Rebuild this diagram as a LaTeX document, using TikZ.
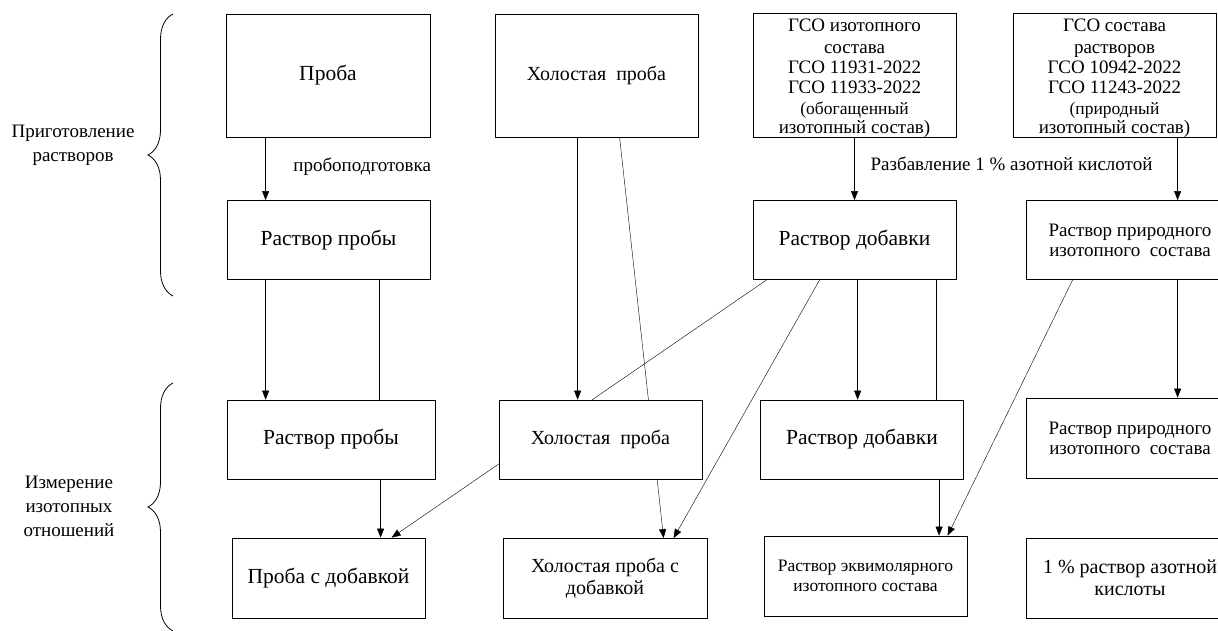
\documentclass[tikz,border=0pt]{standalone}
\usepackage{fontspec}
\setmainfont{Liberation Serif}
\usetikzlibrary{arrows.meta,decorations.pathreplacing,backgrounds}

\begin{document}
\begin{tikzpicture}[x=1pt,y=-1pt,line width=0.8pt,
  box/.style={draw, fill=white, align=center, inner sep=1pt,
    minimum width=203pt, minimum height=79pt, font=\fontsize{21.5}{23}\selectfont},
  gso/.style={box, inner sep=0pt, minimum height=123pt, font=\fontsize{19}{20}\selectfont},
  arr/.style={-{Triangle[length=9pt,width=7pt]}},
  lbl/.style={align=center, inner sep=0pt, font=\fontsize{19}{24}\selectfont}]
\useasboundingbox (0,0) rectangle (1218,630);

% row 1
\node[box, minimum width=204pt, minimum height=123pt] (proba) at (328,75.5) {Проба};
\node[box, minimum height=123pt, font=\fontsize{20}{22}\selectfont] (holost) at (596.5,75.5) {Холостая\ \ проба};
\node[gso] (gsoIso) at (854.5,75.5) {\rule{0pt}{18pt}ГСО изотопного\\[2pt] состава\\ ГСО 11931-2022\\ ГСО 11933-2022\\[1pt]
  \fontsize{17.5}{17}\selectfont (обогащенный\\[-0.5pt] изотопный состав)};
\node[gso] (gsoSost) at (1114.5,75.5) {\rule{0pt}{18pt}ГСО состава\\[2pt] растворов\\ ГСО 10942-2022\\ ГСО 11243-2022\\[1pt]
  \fontsize{17.5}{17}\selectfont (природный\\[-0.5pt] изотопный состав)};

% row 2
\node[box] (rprob) at (328.5,240) {Раствор пробы};
\node[box] (rdob) at (854.5,240) {Раствор добавки};
\node[box, minimum width=208pt, font=\fontsize{19}{20}\selectfont] (rprir) at (1130,240) {Раствор природного\\ изотопного\ \ состава};

% row 3
\node[box, minimum width=208pt] (rprob3) at (331,439.5) {Раствор пробы};
\node[box, font=\fontsize{20}{22}\selectfont] (holost3) at (600.5,439.5) {Холостая\ \ проба};
\node[box] (rdob3) at (862,439.5) {Раствор добавки};
\node[box, minimum width=208pt, minimum height=80pt, font=\fontsize{19}{20}\selectfont] (rprir3) at (1130,438) {Раствор природного\\ изотопного\ \ состава};

% row 4
\node[box, minimum width=193pt, minimum height=80pt] (probaDob) at (328.5,578) {Проба с добавкой};
\node[box, minimum width=204pt, minimum height=80pt, font=\fontsize{20}{22}\selectfont] (holostDob) at (605,578.5) {Холостая проба с\\ добавкой};
\node[box, minimum height=80pt, font=\fontsize{17.5}{20}\selectfont] (ekvi) at (865.5,576) {Раствор эквимолярного\\ изотопного состава};
\node[box, minimum width=208pt, minimum height=80pt, font=\fontsize{20}{22}\selectfont] (azot) at (1130,578) {1 \% раствор азотной\\ кислоты};

% labels
\node[font=\fontsize{19}{21}\selectfont, anchor=west, inner sep=0pt] (probopod) at (293,167) {пробоподготовка};
\node[font=\fontsize{19}{21}\selectfont, inner sep=0pt] (razb) at (1011.5,164) {Разбавление 1 \% азотной кислотой};
\node[lbl] (prig) at (73,145) {Приготовление\\ растворов};
\node[lbl] (izm) at (69,506) {Измерение\\ изотопных\\ отношений};

% braces
\draw[decorate, decoration={brace, amplitude=25pt}] (173,296) -- (173,14);
\draw[decorate, decoration={brace, amplitude=25pt}] (173,631) -- (173,383);

% connectors
\begin{scope}[on background layer]
\draw[arr] ([xshift=40pt]proba.south west) -- ([xshift=40pt]proba.south west |- rprob.north);
\draw[arr] (gsoIso.south) -- (gsoIso.south |- rdob.north);
\draw[arr] ([xshift=165pt]gsoSost.south west) -- ([xshift=165pt]gsoSost.south west |- rprir.north);
\draw[arr] ([xshift=83pt]holost.south west) -- ([xshift=83pt]holost.south west |- holost3.north);
\draw[arr] ([xshift=125pt]holost.south west) -- ([xshift=161pt]holostDob.north west);
\draw[arr] ([xshift=39pt]rprob.south west) -- ([xshift=39pt]rprob.south west |- rprob3.north);
\draw ([xshift=153pt]rprob.south west) -- ([xshift=153pt]rprob.south west |- rprob3.north);
\draw[arr] ([xshift=14pt]rdob.south west) -- ([xshift=160pt]probaDob.north west);
\draw[arr] ([xshift=67pt]rdob.south west) -- ([xshift=171pt]holostDob.north west);
\draw[arr] ([xshift=105pt]rdob.south west) -- ([xshift=105pt]rdob.south west |- rdob3.north);
\draw ([xshift=184pt]rdob.south west) -- ([xshift=184pt]rdob.south west |- rdob3.north);
\draw[arr] ([xshift=154pt]rprob3.south west) -- ([xshift=154pt]rprob3.south west |- probaDob.north);
\draw[arr] ([xshift=179pt]rdob3.south west) -- ([xshift=179pt]rdob3.south west |- ekvi.north);
\draw[arr] ([xshift=47pt]rprir.south west) -- ([xshift=184pt]ekvi.north west);
\draw[arr] ([xshift=152pt]rprir.south west) -- ([xshift=152pt]rprir.south west |- rprir3.north);
\end{scope}
\end{tikzpicture}
\end{document}
